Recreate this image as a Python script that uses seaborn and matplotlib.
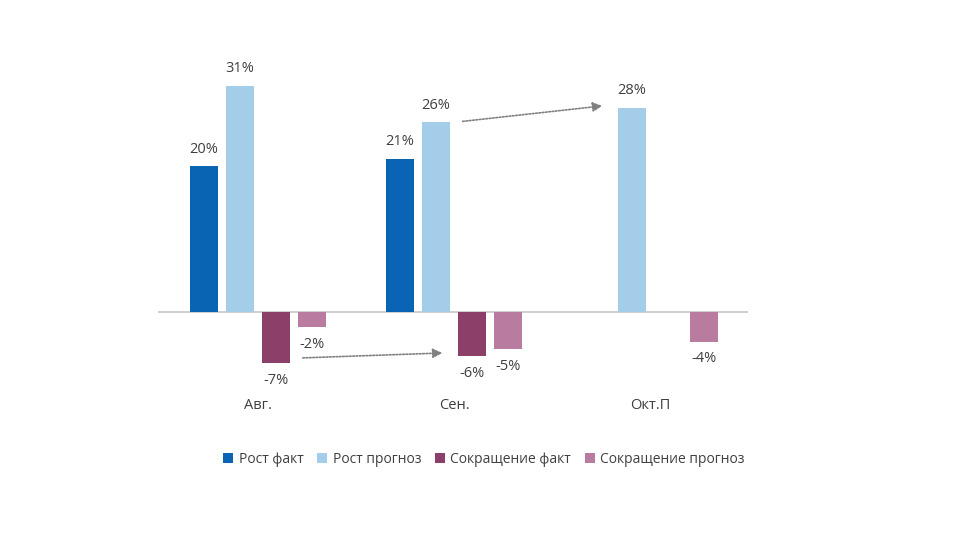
import pandas as pd
import matplotlib
matplotlib.use("Agg")
import matplotlib.pyplot as plt
import seaborn as sns

# Data
months = ["Авг.", "Сен.", "Окт.П"]
series = ["Рост факт", "Рост прогноз", "Сокращение факт", "Сокращение прогноз"]
growth_fact = [20, 21, None]
growth_forecast = [31, 26, 28]
cut_fact = [-7, -6, None]
cut_forecast = [-2, -5, -4]
colors = ["#0A64B4", "#A3CDE8", "#8C3F69", "#BA7BA1"]

rows = []
for name, vals in zip(series, [growth_fact, growth_forecast, cut_fact, cut_forecast]):
    for m, v in zip(months, vals):
        if v is not None:
            rows.append({"Месяц": m, "Серия": name, "Значение": v})
df = pd.DataFrame(rows)

sns.set_style("white")
plt.rcParams["font.family"] = ["Open Sans", "DejaVu Sans"]

fig = plt.figure(figsize=(9.68, 5.44), dpi=100)
ax = fig.add_axes([0.163, 0.305, 0.61, 0.564])

sns.barplot(data=df, x="Месяц", y="Значение", hue="Серия", order=months,
            hue_order=series, palette=colors, saturation=1, width=0.735, gap=0.22,
            errorbar=None, linewidth=0, ax=ax, legend=True)

for c in ax.containers:
    labels = [f"{v:.0f}%" for v in c.datavalues]
    ax.bar_label(c, labels=labels, padding=7, fontsize=10.5, color="#404040")

ax.axhline(0, color="#C8C8C8", lw=1.2, zorder=0)
ax.set_ylim(-9, 33)
ax.set_xlim(-0.51, 2.5)
sns.despine(ax=ax, left=True, bottom=True)
ax.set_yticks([])
ax.set_xlabel("")
ax.set_ylabel("")
ax.tick_params(axis="x", length=0, pad=14, labelsize=10.5, labelcolor="#404040")

# dotted trend arrows
arrow = dict(arrowstyle="-|>", linestyle=(0, (1, 1)), color="#808080", lw=1.2,
             mutation_scale=14)
ax.annotate("", xy=(1.77, 28.3), xytext=(1.03, 26.1), arrowprops=arrow)
ax.annotate("", xy=(0.955, -5.55), xytext=(0.215, -6.25), arrowprops=arrow)

handles, labels = ax.get_legend_handles_labels()
ax.get_legend().remove()
fig.legend(handles, labels, loc="center", bbox_to_anchor=(0.5, 0.155), ncol=4,
           frameon=False, fontsize=10, handlelength=0.7, handleheight=0.7,
           handletextpad=0.4, columnspacing=1.0, labelcolor="#404040")

fig.savefig("out.png", dpi=100)
